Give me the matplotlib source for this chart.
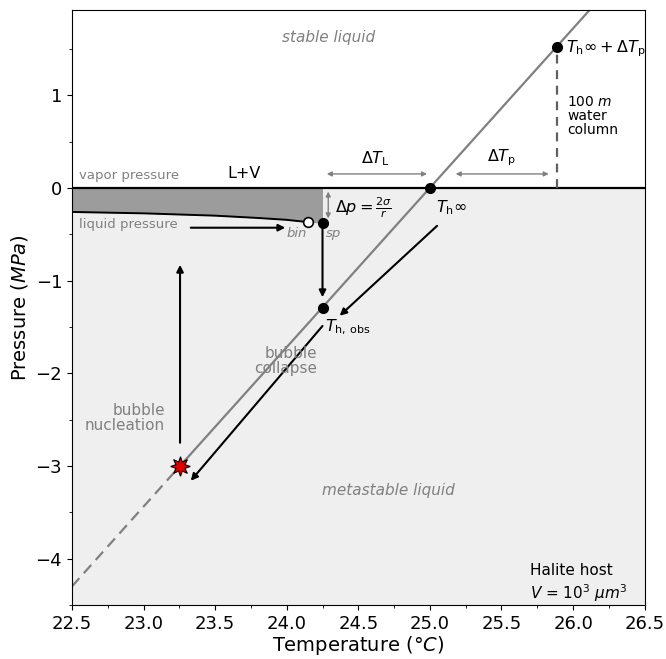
import matplotlib.pyplot as plt
import numpy as np
from matplotlib.ticker import MultipleLocator

# Isochore of the inclusion liquid (T in degC, p in MPa)
ISOCHORE_T = [22.5, 23.255, 26.5]
ISOCHORE_P = [-4.30, -3.0, 2.58]

# Liquid pressure curve from the left edge to the binodal point
LIQ_T = [22.5, 23.0, 23.5, 23.8, 24.0, 24.15]
LIQ_P = [-0.26, -0.275, -0.30, -0.325, -0.345, -0.37]

T_BIN, P_BIN = 24.15, -0.37
T_SP, P_SP = 24.25, -0.38
T_INF = 25.0
T_OBS, P_OBS = 24.25, -1.30
T_TOP, P_TOP = 25.89, 1.52
T_NUC, P_NUC = 23.255, -3.0

XLIM = (22.5, 26.5)
YLIM = (-4.5, 1.92)

GRAY_TEXT = "#808080"
FS = 10.5


def arrow(ax, start, end, color="black", lw=1.5, style="-|>", scale=10):
    ax.annotate(
        "", xy=end, xytext=start,
        arrowprops=dict(arrowstyle=style, color=color, lw=lw, mutation_scale=scale,
                        shrinkA=0, shrinkB=0),
    )


def main() -> None:
    fig, ax = plt.subplots(figsize=(6.66, 6.59), dpi=100)
    fig.subplots_adjust(left=0.108, right=0.968, top=0.985, bottom=0.082)

    ax.set_xlim(*XLIM)
    ax.set_ylim(*YLIM)

    # Background regions
    ax.axhspan(YLIM[0], 0, color="#efefef", zorder=0)
    fill_t = LIQ_T + [T_SP]
    fill_p = LIQ_P + [P_SP]
    ax.fill_between(fill_t, fill_p, 0, color="#9c9c9c", zorder=1, lw=0)
    ax.axhline(0, color="black", lw=1.6, zorder=2)
    ax.plot(LIQ_T, LIQ_P, color="black", lw=1.4, zorder=2)

    # Isochore: dashed below nucleation, solid above
    ax.plot(ISOCHORE_T[:2], ISOCHORE_P[:2], color="#808080", lw=1.6, ls=(0, (5, 3)), zorder=2)
    ax.plot(ISOCHORE_T[1:], ISOCHORE_P[1:], color="#808080", lw=1.6, zorder=2)

    # Water column dashed line
    ax.plot([T_TOP, T_TOP], [0, P_TOP], color="#606060", lw=1.6, ls=(0, (4, 3)), zorder=2)

    # Arrows
    arrow(ax, (T_SP, P_SP), (T_SP, -1.18))
    arrow(ax, (23.33, -0.43), (23.99, -0.43))
    arrow(ax, (23.255, -2.75), (23.255, -0.83))
    arrow(ax, (25.05, -0.41), (24.37, -1.38))
    arrow(ax, (24.25, -1.49), (23.33, -3.16))
    arrow(ax, (24.29, -0.04), (24.29, -0.33), color="#808080", lw=1, style="<|-|>", scale=7)
    arrow(ax, (24.28, 0.15), (24.98, 0.15), color="#808080", lw=1, style="<|-|>", scale=7)
    arrow(ax, (25.18, 0.15), (25.83, 0.15), color="#808080", lw=1, style="<|-|>", scale=7)

    # Markers
    ax.plot([T_INF, T_SP, T_OBS, T_TOP], [0, P_SP, P_OBS, P_TOP], "o",
            color="black", ms=7, zorder=5)
    ax.plot(T_BIN, P_BIN, "o", mfc="white", mec="black", mew=1.2, ms=7, zorder=5)
    ax.plot(T_NUC, P_NUC, marker=(8, 1, 0), color="#e00000", mec="black", mew=0.8,
            ms=14, zorder=6)

    # Labels
    ax.text(24.29, 1.62, "stable liquid", color=GRAY_TEXT, style="italic",
            fontsize=FS + 0.5, ha="center", va="center")
    ax.text(24.71, -3.26, "metastable liquid", color=GRAY_TEXT, style="italic",
            fontsize=FS + 0.5, ha="center", va="center")
    ax.text(22.55, 0.13, "vapor pressure", color=GRAY_TEXT, fontsize=FS - 1,
            ha="left", va="center")
    ax.text(23.7, 0.15, "L+V", color="black", fontsize=FS + 1, ha="center", va="center")
    ax.text(22.55, -0.40, "liquid pressure", color=GRAY_TEXT, fontsize=FS - 1,
            ha="left", va="center")
    ax.text(24.0, -0.49, "bin", color=GRAY_TEXT, style="italic", fontsize=FS - 1,
            ha="left", va="center")
    ax.text(24.27, -0.49, "sp", color=GRAY_TEXT, style="italic", fontsize=FS - 1,
            ha="left", va="center")
    ax.text(24.21, -1.87, "bubble\ncollapse", color=GRAY_TEXT, fontsize=FS + 0.5,
            ha="right", va="center", linespacing=1.0)
    ax.text(23.15, -2.48, "bubble\nnucleation", color=GRAY_TEXT, fontsize=FS + 0.5,
            ha="right", va="center", linespacing=1.0)
    ax.text(24.34, -0.21, r"$\Delta p = \frac{2\sigma}{r}$", fontsize=FS + 1,
            ha="left", va="center")
    ax.text(24.62, 0.32, r"$\Delta T_\mathrm{L}$", fontsize=FS + 1, ha="center", va="center")
    ax.text(25.5, 0.32, r"$\Delta T_\mathrm{p}$", fontsize=FS + 1, ha="center", va="center")
    ax.text(25.04, -0.21, r"$T_\mathrm{h}\infty$", fontsize=FS + 1, ha="left", va="center")
    ax.text(24.27, -1.50, r"$T_\mathrm{h,\,obs}$", fontsize=FS + 1, ha="left", va="center")
    ax.text(25.95, 1.5, r"$T_\mathrm{h}\infty + \Delta T_\mathrm{p}$", fontsize=FS + 1,
            ha="left", va="center")
    ax.text(25.96, 0.78, "100 $m$\nwater\ncolumn", fontsize=FS - 0.5,
            ha="left", va="center", linespacing=1.0)
    ax.text(25.7, -4.27, "Halite host\n$V$ = 10$^3$ $\\mu m^3$", fontsize=FS + 0.5,
            ha="left", va="center", linespacing=1.3)

    ax.set_xlabel("Temperature ($°C$)", fontsize=14, labelpad=1)
    ax.set_ylabel("Pressure ($MPa$)", fontsize=14)
    ax.xaxis.set_major_locator(MultipleLocator(0.5))
    ax.xaxis.set_minor_locator(MultipleLocator(0.25))
    ax.yaxis.set_major_locator(MultipleLocator(1))
    ax.yaxis.set_minor_locator(MultipleLocator(0.5))
    ax.tick_params(labelsize=13)

    fig.savefig("out.png", dpi=100)


if __name__ == "__main__":
    main()
